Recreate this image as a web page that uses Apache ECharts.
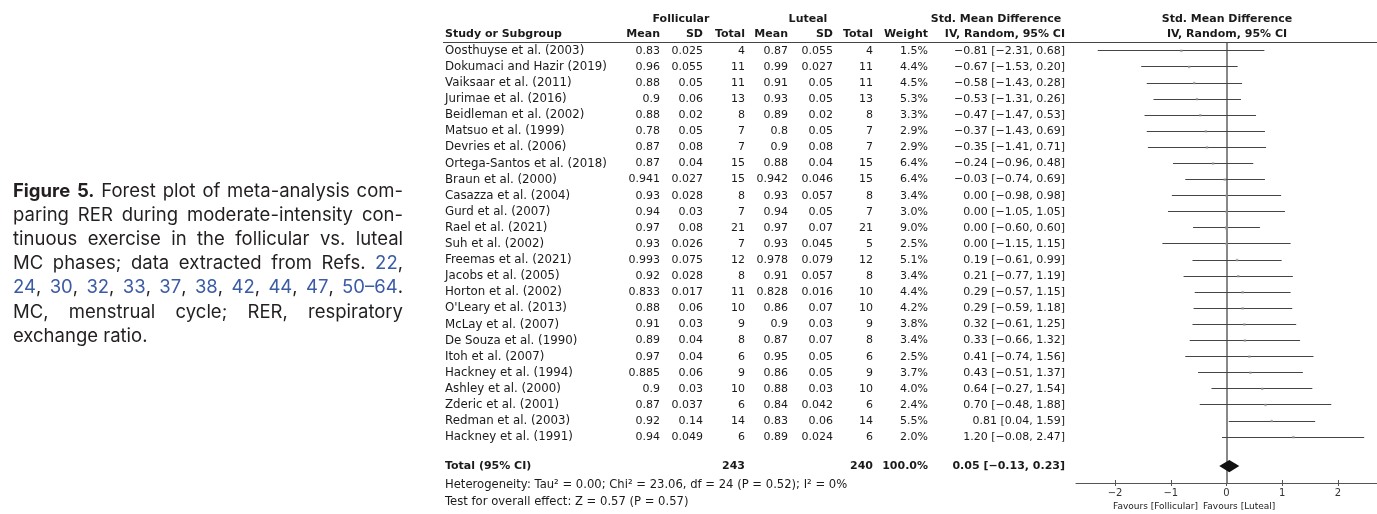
<!DOCTYPE html>
<html><head><meta charset="utf-8">
<script src="https://cdn.jsdelivr.net/npm/echarts@6/dist/echarts.min.js"></script>
<style>html,body{margin:0;padding:0;background:#fff}#c{width:1377px;height:514px}</style>
</head><body><div id="c"></div>
<script>
// ---------------- DATA ----------------
const studies = ['Oosthuyse et al. (2003)','Dokumaci and Hazir (2019)','Vaiksaar et al. (2011)','Jurimae et al. (2016)','Beidleman et al. (2002)','Matsuo et al. (1999)','Devries et al. (2006)','Ortega-Santos et al. (2018)','Braun et al. (2000)','Casazza et al. (2004)','Gurd et al. (2007)','Rael et al. (2021)','Suh et al. (2002)','Freemas et al. (2021)','Jacobs et al. (2005)','Horton et al. (2002)',"O'Leary et al. (2013)",'McLay et al. (2007)','De Souza et al. (1990)','Itoh et al. (2007)','Hackney et al. (1994)','Ashley et al. (2000)','Zderic et al. (2001)','Redman et al. (2003)','Hackney et al. (1991)'];
const follMean = [0.83,0.96,0.88,0.9,0.88,0.78,0.87,0.87,0.941,0.93,0.94,0.97,0.93,0.993,0.92,0.833,0.88,0.91,0.89,0.97,0.885,0.9,0.87,0.92,0.94];
const follSD   = [0.025,0.055,0.05,0.06,0.02,0.05,0.08,0.04,0.027,0.028,0.03,0.08,0.026,0.075,0.028,0.017,0.06,0.03,0.04,0.04,0.06,0.03,0.037,0.14,0.049];
const follN    = [4,11,11,13,8,7,7,15,15,8,7,21,7,12,8,11,10,9,8,6,9,10,6,14,6];
const lutMean  = [0.87,0.99,0.91,0.93,0.89,0.8,0.9,0.88,0.942,0.93,0.94,0.97,0.93,0.978,0.91,0.828,0.86,0.9,0.87,0.95,0.86,0.88,0.84,0.83,0.89];
const lutSD    = [0.055,0.027,0.05,0.05,0.02,0.05,0.08,0.04,0.046,0.057,0.05,0.07,0.045,0.079,0.057,0.016,0.07,0.03,0.07,0.05,0.05,0.03,0.042,0.06,0.024];
const lutN     = [4,11,11,13,8,7,7,15,15,8,7,21,5,12,8,10,10,9,8,6,9,10,6,14,6];
const weight   = [1.5,4.4,4.5,5.3,3.3,2.9,2.9,6.4,6.4,3.4,3.0,9.0,2.5,5.1,3.4,4.4,4.2,3.8,3.4,2.5,3.7,4.0,2.4,5.5,2.0];
const smd      = [-0.81,-0.67,-0.58,-0.53,-0.47,-0.37,-0.35,-0.24,-0.03,0.00,0.00,0.00,0.00,0.19,0.21,0.29,0.29,0.32,0.33,0.41,0.43,0.64,0.70,0.81,1.20];
const ciLow    = [-2.31,-1.53,-1.43,-1.31,-1.47,-1.43,-1.41,-0.96,-0.74,-0.98,-1.05,-0.60,-1.15,-0.61,-0.77,-0.57,-0.59,-0.61,-0.66,-0.74,-0.51,-0.27,-0.48,0.04,-0.08];
const ciHigh   = [0.68,0.20,0.28,0.26,0.53,0.69,0.71,0.48,0.69,0.98,1.05,0.60,1.15,0.99,1.19,1.15,1.18,1.25,1.32,1.56,1.37,1.54,1.88,1.59,2.47];
const totalFollN = 243, totalLutN = 240, totalWeight = 100.0;
const totalSMD = 0.05, totalLow = -0.13, totalHigh = 0.23;
const heterogeneityText = 'Heterogeneity: Tau² = 0.00; Chi² = 23.06, df = 24 (P = 0.52); I² = 0%';
const overallText = 'Test for overall effect: Z = 0.57 (P = 0.57)';
const axisTicks = [-2,-1,0,1,2];
const favoursLeft = 'Favours [Follicular]';
const favoursRight = 'Favours [Luteal]';
const captionLines = [
  '{b|Figure 5.} Forest plot of meta-analysis com-',
  'paring RER during moderate-intensity con-',
  'tinuous exercise in the follicular vs. luteal',
  'MC phases; data extracted from Refs. {u|22},',
  '{u|24}, {u|30}, {u|32}, {u|33}, {u|37}, {u|38}, {u|42}, {u|44}, {u|47}, {u|50–64}.',
  'MC, menstrual cycle; RER, respiratory',
  'exchange ratio.'
];

// ---------------- LAYOUT ----------------
const F = '"DejaVu Sans", sans-serif';
const fontN = '11px ' + F, fontName = '11.8px ' + F, fontB = 'bold 11px ' + F, fontS = '11.6px ' + F;
const TXT = '#1a1a1a';
const COL = {name:445, fMean:660, fSD:703, fN:745, lMean:788, lSD:833, lN:873, w:928, ci:1065, plotC:1227};
const ROW_MIN = -0.55, ROW_MAX = 26.85;
const TOTAL_ROW = 25.8, HEAD1 = -2.0, HEAD2 = -1.05, HET_ROW = 27.0, TEST_ROW = 28.03, FAV_ROW = 28.33;

const fmt2 = v => (v < 0 ? '−' : '') + Math.abs(v).toFixed(2);
const ciStr = (e, l, h) => fmt2(e) + ' [' + fmt2(l) + ', ' + fmt2(h) + ']';

const cells = [];
function cell(x, row, text, align, font, color) { cells.push({x, row, text: String(text), align, font: font || fontN, color: color || TXT}); }
// headers
cell(681, HEAD1, 'Follicular', 'center', fontB);
cell(808, HEAD1, 'Luteal', 'center', fontB);
cell(996, HEAD1, 'Std. Mean Difference', 'center', fontB);
cell(COL.plotC, HEAD1, 'Std. Mean Difference', 'center', fontB);
cell(COL.name, HEAD2, 'Study or Subgroup', 'left', fontB);
cell(COL.fMean, HEAD2, 'Mean', 'right', fontB);
cell(COL.fSD, HEAD2, 'SD', 'right', fontB);
cell(COL.fN, HEAD2, 'Total', 'right', fontB);
cell(COL.lMean, HEAD2, 'Mean', 'right', fontB);
cell(COL.lSD, HEAD2, 'SD', 'right', fontB);
cell(COL.lN, HEAD2, 'Total', 'right', fontB);
cell(COL.w, HEAD2, 'Weight', 'right', fontB);
cell(COL.ci, HEAD2, 'IV, Random, 95% CI', 'right', fontB);
cell(COL.plotC, HEAD2, 'IV, Random, 95% CI', 'center', fontB);
// rows
studies.forEach((s, i) => {
  cell(COL.name, i, s, 'left', fontName);
  cell(COL.fMean, i, follMean[i], 'right');
  cell(COL.fSD, i, follSD[i], 'right');
  cell(COL.fN, i, follN[i], 'right');
  cell(COL.lMean, i, lutMean[i], 'right');
  cell(COL.lSD, i, lutSD[i], 'right');
  cell(COL.lN, i, lutN[i], 'right');
  cell(COL.w, i, weight[i].toFixed(1) + '%', 'right');
  cell(COL.ci, i, ciStr(smd[i], ciLow[i], ciHigh[i]), 'right');
});
// total
cell(COL.name, TOTAL_ROW, 'Total (95% CI)', 'left', fontB);
cell(COL.fN, TOTAL_ROW, totalFollN, 'right', fontB);
cell(COL.lN, TOTAL_ROW, totalLutN, 'right', fontB);
cell(COL.w, TOTAL_ROW, totalWeight.toFixed(1) + '%', 'right', fontB);
cell(COL.ci, TOTAL_ROW, ciStr(totalSMD, totalLow, totalHigh), 'right', fontB);
cell(COL.name, HET_ROW, heterogeneityText, 'left', fontS);
cell(COL.name, TEST_ROW, overallText, 'left', fontS);
cell(COL.plotC - 29, FAV_ROW, favoursLeft, 'right', '9px ' + F);
cell(COL.plotC - 24, FAV_ROW, favoursRight, 'left', '9px ' + F);

// ---------------- CAPTION (justified) ----------------
const CAP = {left: 13, right: 403, y0: 191.5, dy: 24.1, family: 'Inter', maxSize: 18.5, blue: '#3b5ba5', color: '#231f20'};
function parseLine(line) {
  const segs = []; const re = /\{(\w)\|([^}]*)\}|([^{]+)/g; let m;
  while ((m = re.exec(line))) { if (m[3] !== undefined) segs.push({t: m[3], s: 'n'}); else segs.push({t: m[2], s: m[1]}); }
  const words = [[]];
  segs.forEach(sg => { sg.t.split(' ').forEach((p, k) => { if (k > 0) words.push([]); if (p) words[words.length - 1].push({t: p, s: sg.s}); }); });
  return words.filter(w => w.length);
}
const cv = document.createElement('canvas').getContext('2d');
function segFont(s, size) { return (s === 'b' ? '700 ' : '400 ') + size + 'px ' + CAP.family; }
function measure(t, s, size) { cv.font = segFont(s, size); return cv.measureText(t).width; }
const parsed = captionLines.map(parseLine);
let capSize = CAP.maxSize;
parsed.slice(0, 6).forEach(words => {
  const w1 = words.reduce((a, w) => a + w.reduce((b, sg) => b + measure(sg.t, sg.s, 100), 0), 0) + (words.length - 1) * measure(' ', 'n', 100);
  capSize = Math.min(capSize, 100 * (CAP.right - CAP.left) / w1);
});
const capEls = [];
parsed.forEach((words, li) => {
  const ww = words.map(w => w.reduce((b, sg) => b + measure(sg.t, sg.s, capSize), 0));
  const sum = ww.reduce((a, b) => a + b, 0);
  const justify = li < parsed.length - 1;
  const gap = justify ? (CAP.right - CAP.left - sum) / (words.length - 1) : measure(' ', 'n', capSize);
  let x = CAP.left;
  const y = CAP.y0 + li * CAP.dy;
  words.forEach((w, wi) => {
    let xx = x;
    w.forEach(sg => {
      capEls.push({type: 'text', x: xx, y: y, silent: true, style: {text: sg.t, font: segFont(sg.s, capSize), fill: sg.s === 'u' ? CAP.blue : CAP.color, align: 'left', verticalAlign: 'middle'}});
      xx += measure(sg.t, sg.s, capSize);
    });
    x += ww[wi] + gap;
  });
});

// ---------------- CHART ----------------
const chart = echarts.init(document.getElementById('c'));
const yAx = gi => ({type: 'value', gridIndex: gi, inverse: true, min: ROW_MIN, max: ROW_MAX, show: false});
const crisp = v => Math.round(v - 0.5) + 0.5;
const PLOT = {left: 1076, top: 42, width: 302, height: 441};
const option = {
  animation: false,
  backgroundColor: '#fff',
  grid: [
    {left: 0, top: 42, width: 1377, height: 441},
    PLOT,
    Object.assign({}, PLOT)
  ],
  xAxis: [
    {type: 'value', gridIndex: 0, min: 0, max: 1377, show: false},
    {type: 'value', gridIndex: 1, min: -2.7, max: 2.7, position: 'bottom',
     axisLine: {show: true, onZero: false, lineStyle: {color: '#555', width: 1}},
     axisTick: {show: true, customValues: axisTicks, length: 3, lineStyle: {color: '#555'}},
     axisLabel: {show: true, customValues: axisTicks, margin: 5, fontFamily: 'DejaVu Sans', fontSize: 10, color: '#333',
                 formatter: v => (v < 0 ? '−' + Math.abs(v) : String(v))},
     splitLine: {show: false}},
    {type: 'value', gridIndex: 2, min: -2.7, max: 2.7, position: 'bottom',
     axisLine: {show: false, onZero: false},
     axisTick: {show: true, inside: true, customValues: axisTicks, length: 3, lineStyle: {color: '#555'}},
     axisLabel: {show: false}, splitLine: {show: false}}
  ],
  yAxis: [yAx(0), yAx(1), yAx(2)],
  graphic: {elements: capEls},
  series: [
    {
      type: 'custom', name: 'headerLine', xAxisIndex: 0, yAxisIndex: 0, silent: true,
      data: [[443, ROW_MIN, 1377]],
      renderItem: (p, api) => {
        const a = api.coord([api.value(0), api.value(1)]), b = api.coord([api.value(2), api.value(1)]);
        return {type: 'line', shape: {x1: a[0], y1: crisp(a[1]), x2: b[0], y2: crisp(b[1])}, style: {stroke: '#444', lineWidth: 1}};
      }
    },
    {
      type: 'custom', name: 'table', xAxisIndex: 0, yAxisIndex: 0, silent: true, clip: false,
      data: cells.map(c => [c.x, c.row]),
      renderItem: (p, api) => {
        const c = cells[p.dataIndex];
        const pt = api.coord([api.value(0), api.value(1)]);
        return {type: 'text', style: {x: pt[0], y: pt[1], text: c.text, font: c.font, fill: c.color, align: c.align, verticalAlign: 'middle'}};
      }
    },
    {
      type: 'custom', name: 'CI', xAxisIndex: 1, yAxisIndex: 1, silent: true, clip: false,
      encode: {x: [0, 1], y: 2},
      data: studies.map((s, i) => [ciLow[i], ciHigh[i], i]),
      renderItem: (p, api) => {
        const a = api.coord([api.value(0), api.value(2)]), b = api.coord([api.value(1), api.value(2)]);
        const y = crisp(a[1]);
        return {type: 'line', shape: {x1: a[0], y1: y, x2: b[0], y2: y}, style: {stroke: '#454545', lineWidth: 1}};
      },
      z: 2
    },
    {
      type: 'scatter', name: 'SMD', xAxisIndex: 1, yAxisIndex: 1, silent: true,
      symbol: 'rect', symbolSize: v => (v[2] >= 8 ? 3.2 : 2.4),
      itemStyle: {color: '#999'},
      data: studies.map((s, i) => [smd[i], i, weight[i]]),
      markLine: {silent: true, symbol: 'none', label: {show: false}, lineStyle: {color: '#888', width: 2, type: 'solid'},
                 data: [{xAxis: 0}], z: 1},
      z: 3
    },
    {
      type: 'custom', name: 'pooled', xAxisIndex: 1, yAxisIndex: 1, silent: true, clip: false,
      encode: {x: [0, 1, 2], y: 3},
      data: [[totalLow, totalSMD, totalHigh, TOTAL_ROW]],
      renderItem: (p, api) => {
        const r = api.value(3), h = 0.38;
        const pts = [api.coord([api.value(0), r]), api.coord([api.value(1), r - h]), api.coord([api.value(2), r]), api.coord([api.value(1), r + h])];
        return {type: 'polygon', shape: {points: pts}, style: {fill: '#111'}, z2: 10};
      },
      z: 10
    }
  ]
};
chart.setOption(option);
</script>
</body></html>
